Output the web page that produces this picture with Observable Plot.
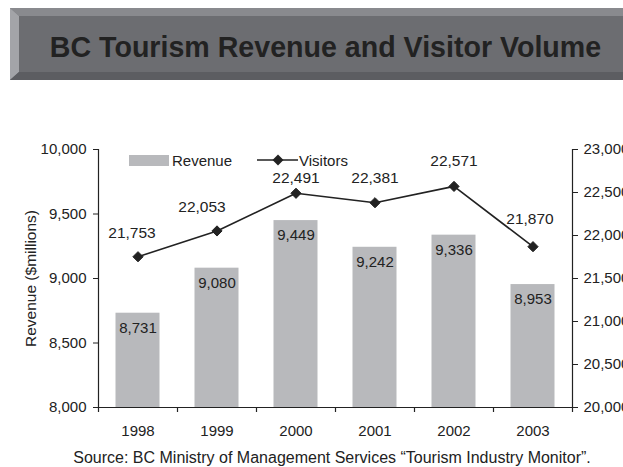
<!DOCTYPE html>
<html>
<head>
<meta charset="utf-8">
<script src="https://cdn.jsdelivr.net/npm/d3@7"></script>
<script src="https://cdn.jsdelivr.net/npm/@observablehq/plot@0.6"></script>
<style>
  html, body { margin: 0; padding: 0; background: #fff; }
  #page { position: relative; width: 623px; height: 467px; overflow: hidden; font-family: "Liberation Sans", Arial, sans-serif; }
  #chart { position: absolute; left: 0; top: 120px; width: 623px; }
  #chart svg { font-family: "Liberation Sans", Arial, sans-serif; }
  #overlay { position: absolute; left: 0; top: 0; pointer-events: none; }
</style>
</head>
<body>
<div id="page">
  <div id="chart"></div>
  <svg id="overlay" width="623" height="467"></svg>
</div>
<script>
// ---- data ----
const years = ["1998", "1999", "2000", "2001", "2002", "2003"];
const revenue = [8731, 9080, 9449, 9242, 9336, 8953];        // $ millions
const visitors = [21753, 22053, 22491, 22381, 22571, 21870]; // thousands
const leftTicks = [8000, 8500, 9000, 9500, 10000];
const rightTicks = [20000, 20500, 21000, 21500, 22000, 22500, 23000];

const titleText = "BC Tourism Revenue and Visitor Volume";
const yLabel = "Revenue ($millions)";
const sourceText = "Source: BC Ministry of Management Services \u201cTourism Industry Monitor\u201d.";

// ---- helpers ----
const fmt = d3.format(",");
// map visitor axis (20,000–23,000) onto revenue axis (8,000–10,000)
const toLeft = v => 8000 + (v - 20000) * (2000 / 3000);
const fromLeft = r => 20000 + (r - 8000) * (3000 / 2000);

const rows = years.map((y, i) => ({year: y, revenue: revenue[i], visitors: visitors[i], vy: toLeft(visitors[i])}));

const ink = "#222";
const barFill = "#b8b9bc";
const band = (623 - 98 - 51) / years.length;

const plot = Plot.plot({
  width: 623,
  height: 330,
  marginTop: 29,
  marginBottom: 43,
  marginLeft: 98,
  marginRight: 51,
  style: {fontFamily: "'Liberation Sans', Arial, sans-serif", fontSize: "15px", color: ink, background: "transparent", overflow: "visible"},
  x: {type: "band", domain: years, padding: 0},
  y: {domain: [8000, 10000]},
  marks: [
    Plot.barY(rows, {x: "year", y1: 8000, y2: "revenue", fill: barFill, insetLeft: 17.5, insetRight: 17.5}),
    // axis lines
    Plot.ruleY([8000], {stroke: ink, strokeWidth: 1.2}),
    Plot.ruleX([years[0]], {dx: -band / 2, insetBottom: -5, stroke: ink, strokeWidth: 1.2}),
    Plot.ruleX([years[years.length - 1]], {dx: band / 2, insetBottom: -5, stroke: ink, strokeWidth: 1.2}),
    Plot.ruleX(years.slice(1), {dx: -band / 2, insetTop: 258, insetBottom: -5, stroke: ink, strokeWidth: 1.2}),
    Plot.axisY(leftTicks, {anchor: "left", tickFormat: fmt, tickSize: 5, tickPadding: 7, label: null, fontSize: 15}),
    Plot.axisY(rightTicks.map(toLeft), {anchor: "right", tickFormat: d => fmt(Math.round(fromLeft(d))), tickSize: 5, tickPadding: 6, label: null, fontSize: 15}),
    Plot.axisX({tickSize: 0, tickPadding: 18, label: null, fontSize: 15}),
    Plot.text([yLabel], {frameAnchor: "left", textAnchor: "middle", dx: -67, rotate: -90, fontSize: 15.5, fill: ink}),
    // revenue labels
    Plot.text(rows, {x: "year", y: "revenue", text: d => fmt(d.revenue), dy: 15, fontSize: 15, fill: ink}),
    // visitors line
    Plot.line(rows, {x: "year", y: "vy", stroke: ink, strokeWidth: 1.6}),
    Plot.dot(rows, {x: "year", y: "vy", symbol: "diamond2", r: 4.6, fill: ink, stroke: ink, strokeWidth: 1}),
    Plot.text(rows.filter(d => d.year === "1998"), {x: "year", y: "vy", text: d => fmt(d.visitors), dy: -24, dx: -6, fontSize: 15.5, fill: ink}),
    Plot.text(rows.filter(d => d.year === "1999"), {x: "year", y: "vy", text: d => fmt(d.visitors), dy: -24, dx: -15, fontSize: 15.5, fill: ink}),
    Plot.text(rows.filter(d => d.year === "2000"), {x: "year", y: "vy", text: d => fmt(d.visitors), dy: -15, fontSize: 15.5, fill: ink}),
    Plot.text(rows.filter(d => d.year === "2001" || d.year === "2002"), {x: "year", y: "vy", text: d => fmt(d.visitors), dy: -25, fontSize: 15.5, fill: ink}),
    Plot.text(rows.filter(d => d.year === "2003"), {x: "year", y: "vy", text: d => fmt(d.visitors), dy: -28, dx: -3, fontSize: 15.5, fill: ink})
  ]
});
document.getElementById("chart").appendChild(plot);
// make sure the tick labels of the axes use the chart's 15px text size
d3.select(plot).selectAll("g[aria-label$='tick label']").attr("font-size", 15).selectAll("text").attr("font-size", 15);

// ---- banner, legend, caption ----
const ov = d3.select("#overlay");
ov.append("rect").attr("x", 10).attr("y", 8).attr("width", 640).attr("height", 72).attr("fill", "#6c6d71");
ov.append("polygon").attr("points", "10,8 650,8 650,16 19,16").attr("fill", "#898a8e");
ov.append("polygon").attr("points", "10,8 19,16 19,72 10,80").attr("fill", "#a3a4a8");
ov.append("polygon").attr("points", "10,80 19,72 650,72 650,80").attr("fill", "#5c5d61");
ov.append("text").attr("x", 325.5).attr("y", 57).attr("text-anchor", "middle")
  .attr("font-family", "'Liberation Sans', Arial, sans-serif").attr("font-weight", "bold").attr("font-size", 28.6)
  .attr("fill", "#222").text(titleText);

// legend
ov.append("rect").attr("x", 129).attr("y", 155).attr("width", 40).attr("height", 11).attr("fill", barFill);
ov.append("text").attr("x", 172).attr("y", 166).attr("font-size", 15).attr("fill", ink)
  .attr("font-family", "'Liberation Sans', Arial, sans-serif").text("Revenue");
ov.append("line").attr("x1", 257).attr("x2", 298).attr("y1", 160).attr("y2", 160).attr("stroke", ink).attr("stroke-width", 1.6);
ov.append("path").attr("d", "M278,154.5L283.5,160L278,165.5L272.5,160Z").attr("fill", ink);
ov.append("text").attr("x", 299).attr("y", 166).attr("font-size", 15).attr("fill", ink)
  .attr("font-family", "'Liberation Sans', Arial, sans-serif").text("Visitors");

// caption
ov.append("text").attr("x", 332).attr("y", 463).attr("text-anchor", "middle").attr("font-size", 16).attr("fill", ink)
  .attr("font-family", "'Liberation Sans', Arial, sans-serif").text(sourceText);
</script>
</body>
</html>
